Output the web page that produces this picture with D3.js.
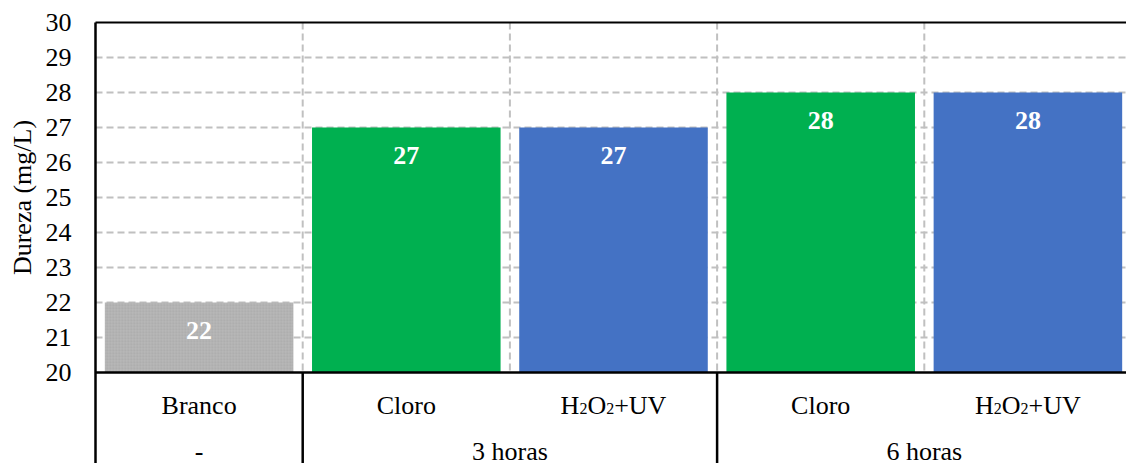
<!DOCTYPE html>
<html lang="pt">
<head>
    <meta charset="UTF-8">
    <title>Dureza (mg/L)</title>
    <script src="https://d3js.org/d3.v7.min.js"></script>
    <style>
        body { margin: 0; background: #fff; }
        text { font-family: "Liberation Serif", "Times New Roman", serif; }
    </style>
</head>
<body>
    <svg id="chart" width="1126" height="463"></svg>

    <script>
        // Data
        var labels = ["Branco", "Cloro", "H2O2+UV", "Cloro", "H2O2+UV"];
        var groups = ["-", "3 horas", "3 horas", "6 horas", "6 horas"];
        var values = [22, 27, 27, 28, 28];
        var kinds = ["branco", "cloro", "uv", "cloro", "uv"];
        var yTicks = [20, 21, 22, 23, 24, 25, 26, 27, 28, 29, 30];

        (function() {
            var data = labels.map(function(d, i) {
                return { id: i, label: d, group: groups[i], value: values[i], kind: kinds[i] };
            });

            var W = 1126, H = 463;
            var pLeft = 95.5, pRight = 1131.5, pTop = 22.5, pBottom = 372.5;

            var svg = d3.select("#chart");

            // texture for the "Branco" bar
            var defs = svg.append("defs");
            var pat = defs.append("pattern")
                .attr("id", "grain")
                .attr("width", 3).attr("height", 3)
                .attr("patternUnits", "userSpaceOnUse");
            pat.append("rect").attr("width", 3).attr("height", 3).attr("fill", "#b3b3b3");
            pat.append("circle").attr("cx", 0.8).attr("cy", 0.8).attr("r", 0.6).attr("fill", "#bdbdbd");
            pat.append("circle").attr("cx", 2.2).attr("cy", 2.2).attr("r", 0.6).attr("fill", "#ababab");

            var color = { branco: "url(#grain)", cloro: "#00b050", uv: "#4472c4" };

            var x = d3.scaleBand()
                .domain(data.map(function(d) { return d.id; }))
                .range([pLeft, pRight])
                .paddingInner(0.09)
                .paddingOuter(0.045);

            var y = d3.scaleLinear()
                .domain([20, 30])
                .range([pBottom, pTop]);

            var step = x.step();
            var gap = (step - x.bandwidth()) / 2;
            var gridStyle = function(sel) {
                sel.attr("stroke", "#c0c0c0")
                   .attr("stroke-width", 2)
                   .attr("stroke-dasharray", "7,4");
            };

            // horizontal gridlines
            svg.append("g").selectAll("line")
                .data(yTicks.slice(1, -1))
                .enter().append("line")
                .attr("x1", pLeft).attr("x2", W)
                .attr("y1", function(d) { return y(d); })
                .attr("y2", function(d) { return y(d); })
                .call(gridStyle);

            // vertical gridlines between categories
            svg.append("g").selectAll("line")
                .data(data.slice(1))
                .enter().append("line")
                .attr("x1", function(d) { return x(d.id) - gap; })
                .attr("x2", function(d) { return x(d.id) - gap; })
                .attr("y1", pTop).attr("y2", pBottom)
                .call(gridStyle);

            // bars
            svg.append("g").selectAll("rect")
                .data(data)
                .enter().append("rect")
                .attr("x", function(d) { return x(d.id); })
                .attr("width", x.bandwidth())
                .attr("y", function(d) { return y(d.value); })
                .attr("height", function(d) { return y(20) - y(d.value); })
                .attr("fill", function(d) { return color[d.kind]; });

            // value labels
            svg.append("g").selectAll("text")
                .data(data)
                .enter().append("text")
                .attr("x", function(d) { return x(d.id) + x.bandwidth() / 2; })
                .attr("y", function(d) { return y(d.value) + 36; })
                .attr("text-anchor", "middle")
                .attr("fill", "#fff")
                .attr("font-weight", "bold")
                .attr("font-size", 26)
                .text(function(d) { return d.value; });

            // y axis
            var yAxis = svg.append("g")
                .attr("transform", "translate(" + pLeft + ",0)")
                .call(d3.axisLeft(y).tickValues(yTicks).tickSize(0).tickPadding(24));
            yAxis.select(".domain").remove();
            yAxis.selectAll("text")
                .attr("font-size", 26)
                .attr("fill", "#000")
                .attr("font-family", "Liberation Serif, Times New Roman, serif");

            // frame lines
            svg.append("line").attr("x1", pLeft).attr("x2", W).attr("y1", pTop).attr("y2", pTop)
                .attr("stroke", "#000").attr("stroke-width", 2);
            svg.append("line").attr("x1", pLeft).attr("x2", W).attr("y1", pBottom).attr("y2", pBottom)
                .attr("stroke", "#000").attr("stroke-width", 2.5);
            svg.append("line").attr("x1", pLeft).attr("x2", pLeft).attr("y1", pTop).attr("y2", H)
                .attr("stroke", "#000").attr("stroke-width", 2.5);

            // category labels, row 1
            var row1 = svg.append("g").selectAll("text")
                .data(data)
                .enter().append("text")
                .attr("x", function(d) { return x(d.id) + x.bandwidth() / 2; })
                .attr("y", 414)
                .attr("text-anchor", "middle")
                .attr("font-size", 26)
                .attr("fill", "#000");
            row1.each(function(d) {
                var t = d3.select(this);
                if (d.label === "H2O2+UV") {
                    t.append("tspan").text("H");
                    t.append("tspan").attr("font-size", 16).text("2");
                    t.append("tspan").text("O");
                    t.append("tspan").attr("font-size", 16).text("2");
                    t.append("tspan").text("+UV");
                } else {
                    t.text(d.label);
                }
            });

            // group labels, row 2
            var groupNames = ["-", "3 horas", "6 horas"];
            var groupSpan = groupNames.map(function(g) {
                var members = data.filter(function(d) { return d.group === g; });
                var a = x(members[0].id) - gap;
                var b = x(members[members.length - 1].id) + x.bandwidth() + gap;
                return { name: g, x0: a, x1: b };
            });

            svg.append("g").selectAll("text")
                .data(groupSpan)
                .enter().append("text")
                .attr("x", function(d) { return (d.x0 + d.x1) / 2; })
                .attr("y", 460)
                .attr("text-anchor", "middle")
                .attr("font-size", 26)
                .attr("fill", "#000")
                .text(function(d) { return d.name; });

            // group separators below the axis
            svg.append("g").selectAll("line")
                .data(groupSpan.slice(1))
                .enter().append("line")
                .attr("x1", function(d) { return d.x0; })
                .attr("x2", function(d) { return d.x0; })
                .attr("y1", pBottom).attr("y2", H)
                .attr("stroke", "#000").attr("stroke-width", 2.5);

            // y axis title
            svg.append("text")
                .attr("transform", "translate(31," + ((pTop + pBottom) / 2) + ") rotate(-90)")
                .attr("text-anchor", "middle")
                .attr("font-size", 26)
                .attr("fill", "#000")
                .text("Dureza (mg/L)");
        })();
    </script>
</body>
</html>
